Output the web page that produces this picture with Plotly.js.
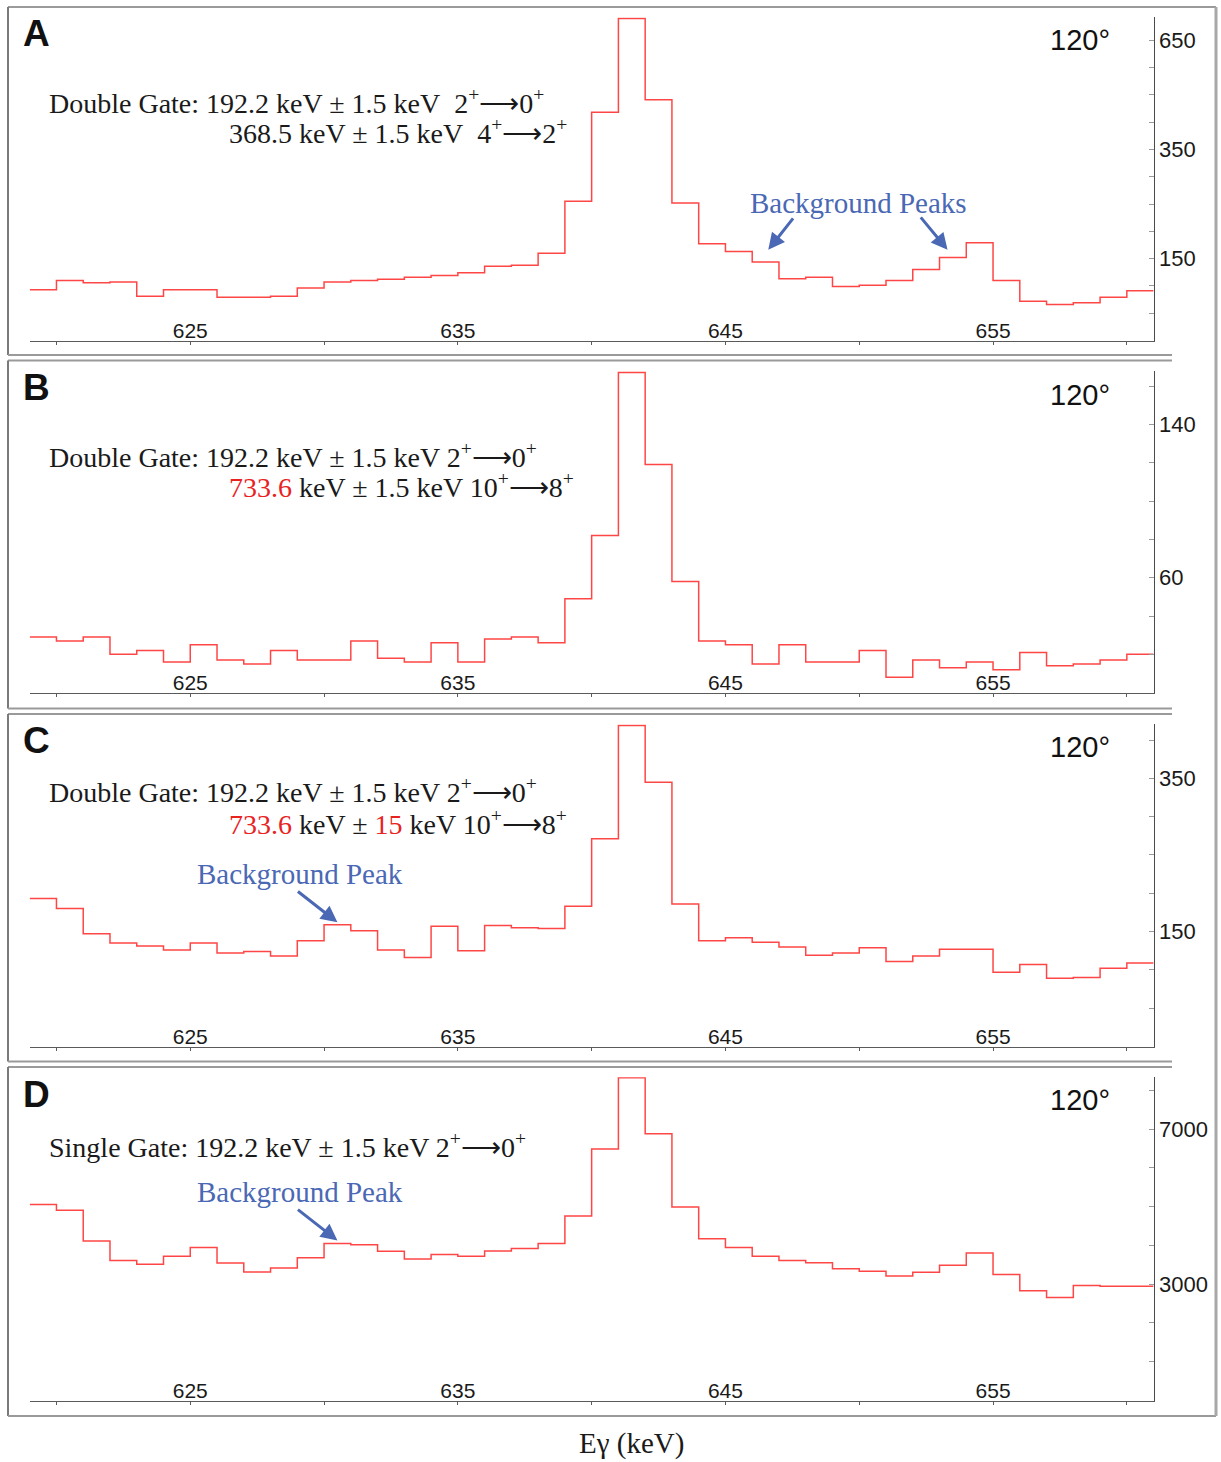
<!DOCTYPE html>
<html>
<head>
<meta charset="utf-8">
<script src="https://cdn.plot.ly/plotly-3.0.1.min.js"></script>
<style>
  html, body { margin: 0; padding: 0; background: #ffffff; }
  #chart { width: 1221px; height: 1462px; }
</style>
</head>
<body>
<div id="chart"></div>
<script>
// ---------------- DATA ----------------
// edges of the 1 keV bins (keV); the last entry closes the final bin
const binEdges = [619,620,621,622,623,624,625,626,627,628,629,630,631,632,633,634,635,636,637,638,639,640,
                  641,642,643,644,645,646,647,648,649,650,651,652,653,654,655,656,657,658,659,660,661];

const countsA = [93,110,106,107,81,93,93,79,79,81,96,107,110,112,116,119,124,136,138,160,255,418,
                 590,441,252,177,163,144,113,116,99,101,110,130,152,179,110,72,66,69,79,91];
const countsB = [29,27,29,20,22,16,25,17,15,22,17,17,27,18,16,26,16,28,29,26,49,82,
                 167,119,58,27,25,15,25,16,16,22,8,17,13,16,12,21,14,15,17,20];
const countsC = [193,180,147,135,131,126,135,122,124,118,138,159,151,126,116,157,125,158,155,154,183,271,
                 419,345,186,138,142,136,130,119,122,129,111,118,127,127,97,107,89,90,102,109];
const countsD = [5060,4910,4115,3615,3515,3720,3945,3550,3315,3420,3685,4050,4020,3850,3650,3765,3720,3855,3920,4050,4760,6490,
                 8330,6885,4995,4175,3945,3720,3615,3555,3400,3335,3210,3310,3490,3805,3250,2835,2655,2970,2945,2945];

const xTickVals = [625, 635, 645, 655];
const xTickText = ['625', '635', '645', '655'];
const xMinorVals = [620, 630, 640, 650, 660];

const yTickValsA = [150, 350, 550];  const yTickTextA = ['150', '350', '650'];
const yTickValsB = [60, 140];        const yTickTextB = ['60', '140'];
const yTickValsC = [150, 350];       const yTickTextC = ['150', '350'];
const yTickValsD = [3000, 7000];     const yTickTextD = ['3000', '7000'];
const yMinorA = [50,100,200,250,300,400,450,500];
const yMinorB = [20,40,80,100,120,160];
const yMinorC = [50,100,200,250,300,400];
const yMinorD = [1000,2000,4000,5000,6000,8000];

const panelLetters = ['A', 'B', 'C', 'D'];
const angleLabel = '120°';

// ---------------- LAYOUT HELPERS ----------------
const W = 1221, H = 1462;
const px = x => x / W;
const py = y => 1 - y / H;

const SERIF = 'Liberation Serif, Times New Roman, serif';
const SANS = 'Liberation Sans, Arial, sans-serif';
const RED = '#ff4646';
const BLUE = '#4a68b4';
const FRAME = '#9a9a9a';
const SERIF_SIZE = 28;

const plotLeft = 29.7, plotRight = 1153.6;

const panels = [
  {top: 17.3,   bot: 340.5,  range: [0, 592],  tv: yTickValsA, tt: yTickTextA, minor: yMinorA, y: countsA},
  {top: 370.7,  bot: 692.7,  range: [0, 168],  tv: yTickValsB, tt: yTickTextB, minor: yMinorB, y: countsB},
  {top: 724.3,  bot: 1046.5, range: [0, 420.5],tv: yTickValsC, tt: yTickTextC, minor: yMinorC, y: countsC},
  {top: 1077.3, bot: 1400.5, range: [0, 8340], tv: yTickValsD, tt: yTickTextD, minor: yMinorD, y: countsD}
];

const traces = [];
const layout = {
  width: W, height: H,
  margin: {l: 0, r: 0, t: 0, b: 0, pad: 0},
  paper_bgcolor: '#ffffff',
  plot_bgcolor: 'rgba(0,0,0,0)',
  showlegend: false,
  annotations: [],
  shapes: []
};

panels.forEach((p, i) => {
  const n = i === 0 ? '' : String(i + 1);
  traces.push({
    type: 'scatter', mode: 'lines',
    x: binEdges,
    y: p.y.concat([p.y[p.y.length - 1]]),
    line: {shape: 'hv', color: RED, width: 1.5},
    xaxis: 'x' + n, yaxis: 'y' + n,
    hoverinfo: 'skip'
  });
  layout['xaxis' + n] = {
    domain: [px(plotLeft), px(plotRight)],
    range: [619, 661],
    anchor: 'y' + n,
    showgrid: false, zeroline: false,
    showline: true, linecolor: '#5a5a5a', linewidth: 1,
    tickmode: 'array', tickvals: xTickVals, ticktext: xTickText,
    ticks: 'outside', ticklen: 3, tickcolor: '#5a5a5a', tickwidth: 1,
    ticklabelposition: 'inside',
    tickfont: {family: SANS, size: 21, color: '#1a1a1a'},
    minor: {tickmode: 'array', tickvals: xMinorVals, ticks: 'outside', ticklen: 3, tickcolor: '#5a5a5a', tickwidth: 1}
  };
  layout['yaxis' + n] = {
    domain: [py(p.bot), py(p.top)],
    range: p.range,
    anchor: 'x' + n,
    side: 'right',
    showgrid: false, zeroline: false,
    showline: true, linecolor: '#4a4a4a', linewidth: 1,
    tickmode: 'array', tickvals: p.tv, ticktext: p.tt,
    ticks: 'inside', ticklen: 5, tickcolor: '#9a9a9a', tickwidth: 1,
    tickfont: {family: SANS, size: 22, color: '#1a1a1a'},
    minor: {tickmode: 'array', tickvals: p.minor, ticks: 'inside', ticklen: 5, tickcolor: '#9a9a9a', tickwidth: 1}
  };
});

function ann(text, x, y, opts) {
  return Object.assign({
    text: text, xref: 'paper', yref: 'paper', x: px(x), y: py(y),
    xanchor: 'left', yanchor: 'middle', showarrow: false,
    font: {family: SERIF, size: SERIF_SIZE, color: '#1a1a1a'}
  }, opts || {});
}
function arrow(xr, yr, xKeV, yVal, ax, ay) {
  return {
    text: '', xref: xr, yref: yr, x: xKeV, y: yVal,
    showarrow: true, ax: ax, ay: ay, axref: 'pixel', ayref: 'pixel',
    arrowhead: 2, arrowsize: 1.1, arrowwidth: 3, arrowcolor: BLUE, standoff: 0
  };
}

const letterY = [33.7, 387.8, 740.3, 1094.2];
const angleY = [40.3, 395, 746.7, 1100.3];
panelLetters.forEach((L, i) => {
  layout.annotations.push(ann('<b>' + L + '</b>', 21, letterY[i], {font: {family: SANS, size: 37, color: '#111'}}));
  layout.annotations.push(ann(angleLabel, 1112, angleY[i], {xanchor: 'right', font: {family: SANS, size: 29, color: '#111'}}));
});

const sp = '\u00a0';
const sup = s => '<sup>' + s + '</sup>';
const red = s => '<span style="color:#e8231f">' + s + '</span>';
const blueFont = {family: SERIF, size: SERIF_SIZE + 1, color: BLUE};
// Panel A
layout.annotations.push(ann('Double Gate: 192.2 keV ± 1.5 keV' + sp + sp + '2' + sup('+') + '⟶0' + sup('+'), 47, 101.7));
layout.annotations.push(ann('368.5 keV ± 1.5 keV' + sp + sp + '4' + sup('+') + '⟶2' + sup('+'), 227, 132));
layout.annotations.push(ann('Background Peaks', 858, 202.5, {xanchor: 'center', font: blueFont}));
layout.annotations.push(arrow('x', 'y', 646.6, 166, 26, -33));
layout.annotations.push(arrow('x', 'y', 653.3, 166, -28, -34));
// Panel B
layout.annotations.push(ann('Double Gate: 192.2 keV ± 1.5 keV 2' + sup('+') + '⟶0' + sup('+'), 47, 455));
layout.annotations.push(ann(red('733.6') + ' keV ± 1.5 keV 10' + sup('+') + '⟶8' + sup('+'), 227, 485));
// Panel C
layout.annotations.push(ann('Double Gate: 192.2 keV ± 1.5 keV 2' + sup('+') + '⟶0' + sup('+'), 47, 790.7));
layout.annotations.push(ann(red('733.6') + ' keV ± ' + red('15') + ' keV 10' + sup('+') + '⟶8' + sup('+'), 227, 822));
layout.annotations.push(ann('Background Peak', 299.5, 874.2, {xanchor: 'center', font: blueFont}));
layout.annotations.push(arrow('x3', 'y3', 630.5, 162, -41, -32));
// Panel D
layout.annotations.push(ann('Single Gate: 192.2 keV ± 1.5 keV 2' + sup('+') + '⟶0' + sup('+'), 47, 1145));
layout.annotations.push(ann('Background Peak', 299.5, 1192, {xanchor: 'center', font: blueFont}));
layout.annotations.push(arrow('x4', 'y4', 630.5, 4130, -41, -32));
// axis title
layout.annotations.push(ann('Eγ (keV)', 631, 1443, {xanchor: 'center', font: {family: SERIF, size: 29, color: '#1a1a1a'}}));

// ---------------- FRAMES ----------------
function line(x0, y0, x1, y1, color, width) {
  return {type: 'line', xref: 'paper', yref: 'paper', x0: px(x0), y0: py(y0), x1: px(x1), y1: py(y1),
          line: {color: color, width: width}};
}
const boxes = [[7, 355], [360.5, 708.5], [714, 1061.5], [1067, 1416]];
boxes.forEach(([t, b], i) => {
  layout.shapes.push(line(8, t, i === 0 ? 1216 : 1172, t, FRAME, 2));
  layout.shapes.push(line(8, t, 8, b, '#7a7a7a', 2));
  layout.shapes.push(line(8, b, i === 3 ? 1216 : 1172, b, FRAME, 2));
});
layout.shapes.push(line(1216, 7, 1216, 1416, '#a8a8a8', 3));

Plotly.newPlot('chart', traces, layout, {staticPlot: true, displayModeBar: false});
</script>
</body>
</html>
